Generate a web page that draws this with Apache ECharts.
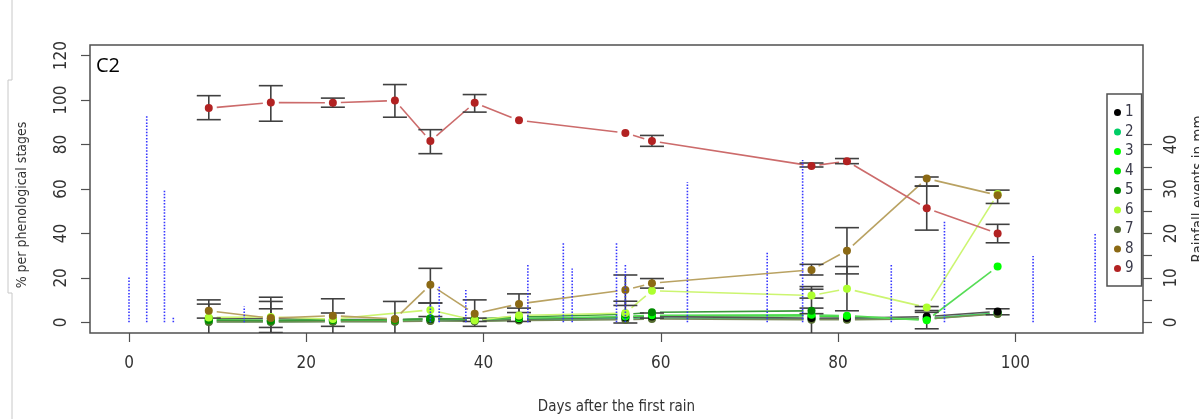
<!DOCTYPE html>
<html>
<head>
<meta charset="utf-8">
<script src="https://cdn.jsdelivr.net/npm/echarts@6/dist/echarts.min.js"></script>
<style>
  html, body { margin: 0; padding: 0; background: #ffffff; overflow: hidden; }
  #chart { position: absolute; left: 0; top: 0; width: 1199px; height: 419px; }
</style>
</head>
<body>
<div id="chart"></div>
<script>
// Sampling days (days after the first rain)
const days = [9, 16, 23, 30, 34, 39, 44, 56, 59, 77, 81, 90, 98];

// % of plants in each phenological stage (null = not sampled)
const stage1 = [1.8, 1.6, 1.2, 1.2, 1.5, 1.0, 1.5, 2.2, 2.6, 1.9, 1.9, 2.6, 4.9];
const stage2 = [0.3, 0.3, 0.4, 0.4, 0.8, 0.6, 1.0, 1.6, 2.0, 1.5, 1.5, 1.8, 4.2];
const stage3 = [1.2, 0.9, 1.0, 1.0, 1.8, 1.2, 1.8, 2.6, 3.2, 3.4, 3.0, 0.9, 25.1];
const stage4 = [0.8, 0.6, 0.8, 0.8, 1.5, 1.0, 1.5, 2.4, 2.9, 2.9, 2.5, 1.5, 4.0];
const stage5 = [1.0, 0.7, 1.0, 1.2, 1.6, 1.5, 2.4, 3.6, 4.5, 5.2, null, null, null];
const stage6 = [2.2, 2.4, 1.5, null, 5.6, 0.9, 3.1, 4.2, 14.2, 12.1, 15.1, 6.7, 57.7];
const stage7 = [0.2, 0.2, 0.3, 0.3, 0.6, 0.5, 0.8, 1.2, 1.5, 1.2, 1.2, 1.5, 3.8];
const stage8 = [5.2, 1.9, 3.0, 1.5, 16.9, 3.9, 8.3, 14.6, 17.6, 23.6, 32.2, 64.7, 57.2];
const stage9 = [96.4, 98.9, 98.8, 99.8, 81.6, 98.8, 90.9, 85.2, 81.6, 70.4, 72.5, 51.3, 40.0];

// Error bars: day, lower bound, upper bound
const errDays = [9, 16, 23, 30, 34, 39, 59, 77, 81, 90, 98,
                 9, 16, 23, 30, 34, 39, 44, 56, 59, 77, 81, 90, 98,
                 9, 16, 34, 39, 44, 77, 81, 90,
                 16, 23, 56, 59, 77, 77, 90, 98];
const errLow  = [91.2, 90.5, 96.8, 92.3, 75.9, 94.6, 79.2, 69.9, 71.4, 41.5, 35.8,
                 1.9, -2.3, -1.8, -6.4, 8.7, -1.8, 4.4, 7.6, 15.4, 21.3, 21.8, 61.3, 53.5,
                 -5.7, -6.5, 2.6, 0.4, 0.4, 10.9, 5.2, 5.3,
                 -4.6, -7.2, -0.3, 1.9, 3.9, -6.0, -2.9, 3.4];
const errHigh = [102.0, 106.5, 100.9, 107.0, 86.7, 102.5, 84.1, 71.7, 73.7, 61.3, 44.1,
                 8.2, 6.1, 10.6, 9.4, 24.3, 10.1, 12.8, 21.3, 19.7, 26.1, 42.6, 65.4, 59.5,
                 10.1, 11.3, 8.7, 1.9, 6.4, 16.1, 25.1, 7.1,
                 9.4, 4.2, 9.5, 4.2, 6.4, 14.9, 4.5, 6.1];

// Rainfall events (mm)
const rainDays = [0, 2, 4, 5, 13, 34, 35, 38, 45, 49, 50, 55, 56, 63, 72, 76, 86, 92, 102, 109];
const rainMm   = [10.3, 46.6, 29.9, 1.3, 3.6, 4.0, 8.2, 7.3, 13.1, 18.0, 12.1, 18.0, 13.1, 31.6, 15.9, 36.5, 13.1, 22.7, 14.9, 20.0];

// Axis tick labels
const xTicks = [0, 20, 40, 60, 80, 100];
const yTicks = [0, 20, 40, 60, 80, 100, 120];
const rainTicks = [0, 5, 10, 15, 20, 25, 30, 35, 40];
const rainLabels = [0, 10, 20, 30, 40];

const stageNames = ['1', '2', '3', '4', '5', '6', '7', '8', '9'];
const stageValues = [stage1, stage2, stage3, stage4, stage5, stage6, stage7, stage8, stage9];
const pointColors = ['#000000', '#00CD66', '#00FF00', '#00E400', '#008B00', '#ADFF2F', '#556B2F', '#8B6914', '#B22222'];
const lineColors  = ['#555555', '#44CC88', '#55DD55', '#44DD44', '#3A9A3A', '#CCF570', '#7A8A5A', '#B9A262', '#CC6B6B'];
// stages 2, 4 and 7 are drawn underneath the others
const drawOrder = [1, 3, 6, 0, 2, 4, 5, 7, 8];

const NARROW = "'Liberation Sans Narrow', 'DejaVu Sans Condensed', 'Liberation Sans', sans-serif";
const GAP = 8;       // white gap left around each point by the connecting lines
const CAP = 12;      // half width of error bar caps

function segmentsOf(vals) {
  const segs = [];
  let prev = null;
  days.forEach((d, i) => {
    if (vals[i] == null) return;
    if (prev) segs.push([prev[0], prev[1], d, vals[i]]);
    prev = [d, vals[i]];
  });
  return segs;
}

const series = [];

// connecting lines with gaps at the points
drawOrder.forEach(k => {
  series.push({
    type: 'custom',
    xAxisIndex: 0, yAxisIndex: 0,
    z: 3,
    silent: true,
    clip: true,
    encode: { x: [0, 2], y: [1, 3] },
    data: segmentsOf(stageValues[k]),
    renderItem: (params, api) => {
      const a = api.coord([api.value(0), api.value(1)]);
      const b = api.coord([api.value(2), api.value(3)]);
      const dx = b[0] - a[0], dy = b[1] - a[1];
      const len = Math.sqrt(dx * dx + dy * dy);
      if (len <= 2 * GAP + 1) return { type: 'group', children: [] };
      const ux = dx / len, uy = dy / len;
      return {
        type: 'line',
        shape: { x1: a[0] + ux * GAP, y1: a[1] + uy * GAP, x2: b[0] - ux * GAP, y2: b[1] - uy * GAP },
        style: { stroke: lineColors[k], lineWidth: 1.6 }
      };
    }
  });
});

// error bars
series.push({
  type: 'custom',
  xAxisIndex: 0, yAxisIndex: 0,
  z: 4,
  silent: true,
  clip: true,
  encode: { x: 0, y: [1, 2] },
  data: errDays.map((d, i) => [d, errLow[i], errHigh[i]]),
  renderItem: (params, api) => {
    const lo = api.coord([api.value(0), api.value(1)]);
    const hi = api.coord([api.value(0), api.value(2)]);
    const st = { stroke: '#404040', lineWidth: 1.6 };
    return {
      type: 'group',
      children: [
        { type: 'line', shape: { x1: lo[0], y1: lo[1], x2: hi[0], y2: hi[1] }, style: st },
        { type: 'line', shape: { x1: lo[0] - CAP, y1: lo[1], x2: lo[0] + CAP, y2: lo[1] }, style: st },
        { type: 'line', shape: { x1: hi[0] - CAP, y1: hi[1], x2: hi[0] + CAP, y2: hi[1] }, style: st }
      ]
    };
  }
});

// points
drawOrder.forEach(k => {
  series.push({
    name: stageNames[k],
    type: 'scatter',
    xAxisIndex: 0, yAxisIndex: 0,
    z: 5,
    symbol: 'circle',
    symbolSize: 8,
    itemStyle: { color: pointColors[k], opacity: 1 },
    data: days.map((d, i) => stageValues[k][i] == null ? null : [d, stageValues[k][i]]).filter(p => p)
  });
});

// rainfall, drawn as dotted vertical lines on the right axis
series.push({
  type: 'custom',
  xAxisIndex: 0, yAxisIndex: 1,
  z: 6,
  silent: true,
  encode: { x: 0, y: 1 },
  data: rainDays.map((d, i) => [d, rainMm[i]]),
  renderItem: (params, api) => {
    const base = api.coord([api.value(0), 0]);
    const top = api.coord([api.value(0), api.value(1)]);
    return {
      type: 'line',
      shape: { x1: base[0], y1: base[1], x2: top[0], y2: top[1] },
      style: { stroke: '#3535ff', lineWidth: 1.6, lineDash: [1.5, 1.6] }
    };
  }
});

const chart = echarts.init(document.getElementById('chart'), null, { renderer: 'canvas', width: 1199, height: 419 });
chart.setOption({
  animation: false,
  backgroundColor: '#ffffff',
  grid: {
    left: 90, right: 56, top: 45, bottom: 86,
    outerBoundsMode: 'none',
    containLabel: false,
    show: true, borderColor: '#505050', borderWidth: 1.5, backgroundColor: 'transparent'
  },
  xAxis: {
    type: 'value', min: -4.4, max: 114.4,
    axisLine: { show: false, onZero: false },
    splitLine: { show: false },
    axisTick: { show: true, length: 9, customValues: xTicks, lineStyle: { color: '#505050', width: 1.2 } },
    axisLabel: { customValues: xTicks, margin: 22, fontSize: 17, color: '#333', fontFamily: NARROW },
    name: 'Days after the first rain',
    nameLocation: 'middle', nameGap: 67,
    nameTextStyle: { fontSize: 15, color: '#333', fontFamily: NARROW }
  },
  yAxis: [{
    type: 'value', min: -4.8, max: 124.8, position: 'left',
    axisLine: { show: false, onZero: false },
    splitLine: { show: false },
    axisTick: { show: true, length: 9, customValues: yTicks, lineStyle: { color: '#505050', width: 1.2 } },
    axisLabel: { customValues: yTicks, rotate: 90, margin: 20, fontSize: 17, color: '#333', fontFamily: NARROW }
  }, {
    type: 'value', min: -2.4, max: 62.4, position: 'right',
    axisLine: { show: false, onZero: false },
    splitLine: { show: false },
    axisTick: { show: true, length: 9, customValues: rainTicks, lineStyle: { color: '#505050', width: 1.2 } },
    axisLabel: { customValues: rainLabels, rotate: 90, margin: 20, fontSize: 17, color: '#333', fontFamily: NARROW },
    name: 'Rainfall events in mm',
    nameLocation: 'middle', nameRotate: 90, nameGap: 49,
    nameTextStyle: { fontSize: 15, color: '#333', fontFamily: NARROW }
  }],
  legend: {
    data: stageNames,
    orient: 'vertical',
    left: 1107, top: 94,
    itemWidth: 7, itemHeight: 7, itemGap: 4.5,
    padding: [11, 8, 10, 7],
    borderColor: '#505050', borderWidth: 1.5,
    backgroundColor: '#ffffff',
    icon: 'circle',
    selectedMode: false,
    textStyle: { fontSize: 15, color: '#3a3a4a', fontFamily: NARROW, padding: [0, 0, 0, -1] }
  },
  graphic: [
    { type: 'text', left: 96, top: 56, style: { text: 'C2', fontSize: 20, fill: '#000', fontFamily: "'Open Sans', sans-serif" } },
    {
      type: 'text', x: 22, y: 205, rotation: Math.PI / 2,
      style: { text: '% per phenological stages', fontSize: 14, fill: '#333', fontFamily: NARROW, align: 'center', verticalAlign: 'middle' }
    },
    {
      type: 'polyline', silent: true,
      shape: { points: [[12, 0], [12, 80], [8, 80], [8, 293], [12, 293], [12, 419]] },
      style: { stroke: '#c8c8c8', lineWidth: 1, fill: null }
    }
  ],
  series: series
});
</script>
</body>
</html>
